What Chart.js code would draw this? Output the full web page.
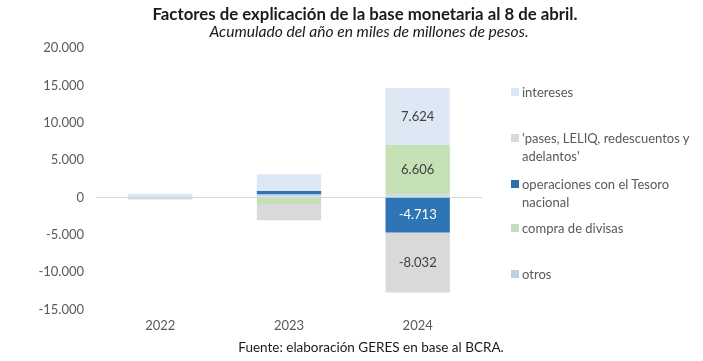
<!DOCTYPE html>
<html>
<head>
<meta charset="utf-8">
<script src="https://cdn.jsdelivr.net/npm/chart.js@4"></script>
<style>
  body { margin: 0; background: #fff; font-family: Lato, "Liberation Sans", sans-serif; }
  #wrap { position: relative; width: 703px; height: 361px; }
  #chart { position: absolute; left: 0; top: 0; }
  .txt { position: absolute; white-space: nowrap; color: #1a1a1a; }
  #title { left: 0; width: 730px; text-align: center; top: 3px; font-size: 16.8px; font-weight: bold; }
  #subtitle { left: 0; width: 738px; text-align: center; top: 22px; font-size: 15.6px; font-style: italic; }
  #source { left: 0; width: 742px; text-align: center; top: 339px; font-size: 13.5px; }
  #legend { position: absolute; left: 511px; top: 0; font-size: 13px; color: #595959; }
  .item { position: absolute; left: 0; white-space: nowrap; line-height: 18px; }
  .item span.box { position: absolute; left: 0; top: 5px; width: 8px; height: 8px; }
  .item span.lbl { position: absolute; left: 11px; top: 0; }
</style>
</head>
<body>
<div id="wrap">
  <canvas id="chart" width="703" height="361"></canvas>
  <div class="txt" id="title">Factores de explicación de la base monetaria al 8 de abril.</div>
  <div class="txt" id="subtitle">Acumulado del año en miles de millones de pesos.</div>
  <div class="txt" id="source">Fuente: elaboración GERES en base al BCRA.</div>
  <div id="legend"></div>
</div>
<script>
const years = ['2022', '2023', '2024'];
const otros = [200, 400, 400];
const compraDivisas = [0, -900, 6606];
const operacionesTesoro = [0, 450, -4713];
const pases = [-300, -2150, -8032];
const intereses = [300, 2250, 7624];

const yTicks = [-15000, -10000, -5000, 0, 5000, 10000, 15000, 20000];

function fmt(v) {
    const s = Math.abs(Math.round(v)).toString().replace(/\B(?=(\d{3})+(?!\d))/g, '.');
    return (v < 0 ? '-' : '') + s;
}

// stacking order: first dataset sits next to zero
const series = [
    { label: 'otros', data: otros, color: '#c9d6e8' },
    { label: 'compra de divisas', data: compraDivisas, color: '#c5e0b4' },
    { label: 'operaciones con el Tesoro nacional', data: operacionesTesoro, color: '#2e75b6', text: '#ffffff' },
    { label: "'pases, LELIQ, redescuentos y adelantos'", data: pases, color: '#d9d9d9' },
    { label: 'intereses', data: intereses, color: '#dde8f4' }
];

// legend as html, same layout as the original
const legendRows = [
    { lines: ['intereses'], color: '#dde7f3', y: 83 },
    { lines: ["'pases, LELIQ, redescuentos y", "adelantos'"], color: '#d9d9d9', y: 129 },
    { lines: ['operaciones con el Tesoro', 'nacional'], color: '#2e6fa9', y: 175 },
    { lines: ['compra de divisas'], color: '#c9dbbf', y: 219 },
    { lines: ['otros'], color: '#c3d0e0', y: 265 }
];
const legend = document.getElementById('legend');
legendRows.forEach(r => {
    const div = document.createElement('div');
    div.className = 'item';
    div.style.top = r.y + 'px';
    div.innerHTML = `<span class="box" style="background:${r.color}"></span><span class="lbl">${r.lines.join('<br>')}</span>`;
    legend.appendChild(div);
});

const valueLabels = {
    id: 'valueLabels',
    afterDatasetsDraw(chart) {
        const ctx = chart.ctx;
        ctx.save();
        ctx.font = '13px Lato, "Liberation Sans", sans-serif';
        ctx.textAlign = 'center';
        ctx.textBaseline = 'middle';
        chart.data.datasets.forEach((ds, i) => {
            const meta = chart.getDatasetMeta(i);
            meta.data.forEach((bar, j) => {
                const v = ds.data[j];
                if (Math.abs(v) < 3000) return;
                const p = bar.getProps(['x', 'y', 'base'], true);
                ctx.fillStyle = series[i].text || '#404040';
                ctx.fillText(fmt(v), p.x, (p.y + p.base) / 2);
            });
        });
        ctx.restore();
    }
};

const ctx = document.getElementById('chart').getContext('2d');
const myChart = new Chart(ctx, {
    type: 'bar',
    data: {
        labels: years,
        datasets: series.map(s => ({
            label: s.label,
            data: s.data,
            backgroundColor: s.color,
            borderWidth: 0,
            barPercentage: 0.5,
            categoryPercentage: 1
        }))
    },
    options: {
        responsive: false,
        animation: false,
        layout: { padding: { top: 48, right: 221, bottom: 18, left: 0 } },
        plugins: {
            legend: { display: false },
            tooltip: { enabled: false }
        },
        scales: {
            x: {
                stacked: true,
                grid: { display: false, drawTicks: false },
                border: { display: false },
                ticks: { color: '#595959', font: { size: 13, family: 'Lato' }, padding: 9 }
            },
            y: {
                stacked: true,
                min: -15000,
                max: 20000,
                afterFit: s => { s.width = 96; },
                afterBuildTicks: s => { s.ticks = yTicks.map(v => ({ value: v })); },
                border: { display: false },
                grid: {
                    drawTicks: false,
                    color: c => (c.tick && c.tick.value === 0) ? '#d9d9d9' : 'rgba(0,0,0,0)'
                },
                ticks: {
                    color: '#595959',
                    font: { size: 13, family: 'Lato' },
                    padding: 12,
                    callback: v => fmt(v)
                }
            }
        }
    },
    plugins: [valueLabels]
});
</script>
</body>
</html>
